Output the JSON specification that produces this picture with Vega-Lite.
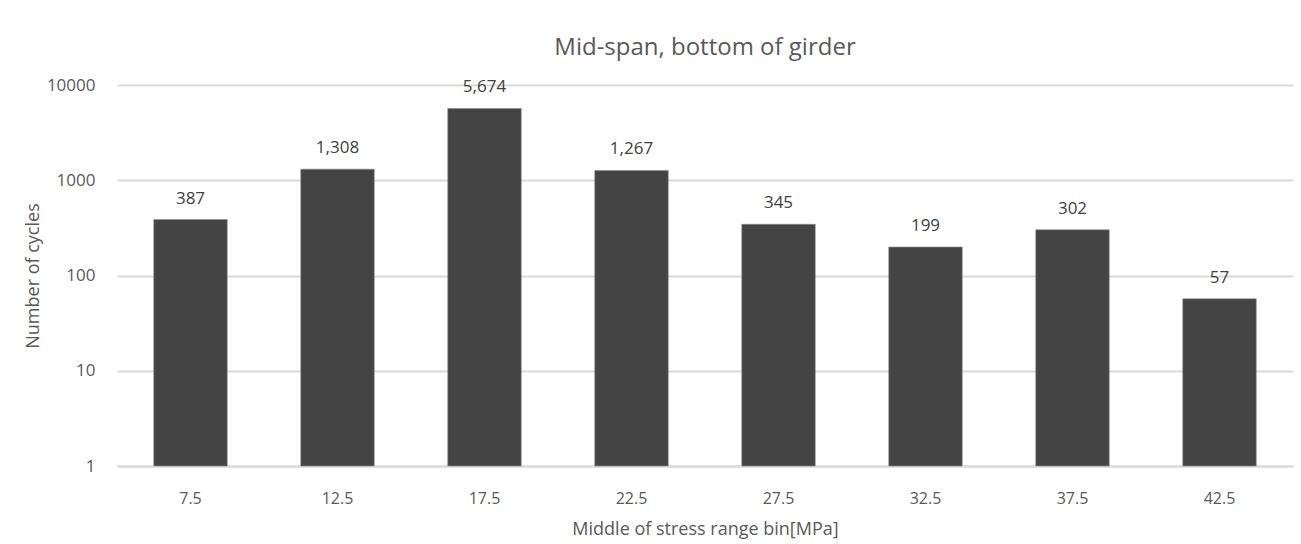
{
  "$schema": "https://vega.github.io/schema/vega-lite/v6.json",
  "autosize": "none",
  "width": 1176,
  "height": 381,
  "padding": {"left": 117, "top": 85, "right": 8, "bottom": 78},
  "background": "white",
  "title": {"text": "Mid-span, bottom of girder", "fontSize": 24, "font": "Open Sans", "fontWeight": "normal", "color": "#595959", "anchor": "middle", "offset": 16},
  "config": {
    "view": {"stroke": null},
    "font": "Open Sans",
    "axis": {"labelColor": "#595959", "titleColor": "#595959", "titleFontWeight": "normal", "labelFont": "Open Sans", "titleFont": "Open Sans"}
  },
  "data": {"values": [
    {"bin": "7.5", "cycles": 387},
    {"bin": "12.5", "cycles": 1308},
    {"bin": "17.5", "cycles": 5674},
    {"bin": "22.5", "cycles": 1267},
    {"bin": "27.5", "cycles": 345},
    {"bin": "32.5", "cycles": 199},
    {"bin": "37.5", "cycles": 302},
    {"bin": "42.5", "cycles": 57}
  ]},
  "encoding": {
    "x": {"field": "bin", "type": "nominal", "sort": null,
      "scale": {"paddingInner": 0.5, "paddingOuter": 0.25},
      "axis": {"title": "Middle of stress range bin[MPa]", "labelAngle": 0, "labelFontSize": 16, "titleFontSize": 18, "labelPadding": 24, "titlePadding": 14, "ticks": false, "domain": true, "domainColor": "#d9d9d9", "domainWidth": 2}}
  },
  "layer": [
    {
      "mark": {"type": "bar", "color": "#444444", "stroke": "#8a8a8a", "strokeWidth": 0.6},
      "encoding": {
        "y": {"field": "cycles", "type": "quantitative",
          "scale": {"type": "log", "domain": [1, 10000]},
          "axis": {"title": "Number of cycles", "values": [1, 10, 100, 1000, 10000], "format": "d", "labelFontSize": 17, "titleFontSize": 18, "labelPadding": 22, "titlePadding": 4, "ticks": false, "domain": false, "gridColor": "#d9d9d9", "gridWidth": 2}},
        "y2": {"datum": 1}
      }
    },
    {
      "mark": {"type": "text", "baseline": "bottom", "dy": -12, "fontSize": 17, "color": "#404040"},
      "encoding": {
        "y": {"field": "cycles", "type": "quantitative"},
        "text": {"field": "cycles", "type": "quantitative", "format": ","}
      }
    }
  ]
}
